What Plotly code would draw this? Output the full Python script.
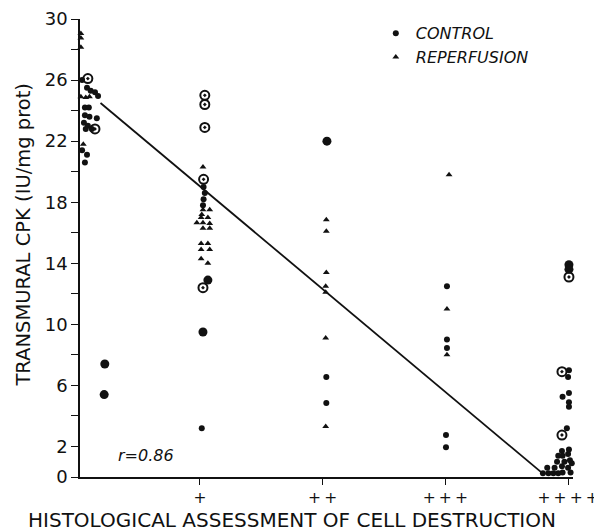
import plotly.graph_objects as go

# ---- data (x = category index + small offset, y = transmural CPK) ----
category_vals = [1, 2, 3, 4]
category_text = ["+", "+\u2009+", "+\u2009+\u2009+", "+\u2009+\u2009+\u2009+"]

y_tick_vals = [0, 2, 4, 6, 8, 10, 12, 14, 16, 18, 20, 22, 24, 26, 28, 30]
y_tick_text = ["0", "2", "", "6", "", "10", "", "14", "", "18", "", "22", "", "26", "", "30"]

reperf_x = [0.03, 0.03, 0.03, 0.02, 0.0, 0.03, 0.07, 0.10, 0.02, 0.05,
            1.025, 1.025, 1.08, 1.015, 1.01, 1.065, 0.975, 1.025, 1.08, 1.025, 1.08,
            1.01, 1.065, 1.01, 1.08, 1.01, 1.065,
            2.03, 2.03, 2.03, 2.025, 2.025, 2.025, 2.025,
            3.03, 3.013, 3.013]
reperf_y = [29.05, 28.75, 28.15, 26.7, 24.9, 24.9, 24.85, 24.9, 22.4, 21.8,
            20.3, 17.5, 17.5, 17.2, 17.0, 17.0, 16.65, 16.65, 16.6, 16.3, 16.3,
            15.3, 15.3, 14.9, 14.9, 14.3, 14.0,
            16.85, 16.1, 13.4, 12.5, 12.1, 9.1, 3.3,
            19.8, 11.0, 8.0]

control_x = [0.04, 0.08, 0.11, 0.145, 0.17, 0.063, 0.095, 0.063, 0.10, 0.16,
             0.055, 0.087, 0.12, 0.07, 0.04, 0.08, 0.02, 0.063,
             1.03, 1.04, 1.03, 1.025, 1.015,
             2.03, 2.03,
             3.013, 3.013, 3.013, 3.005, 3.005,
             4.007, 4.0, 3.955, 4.007, 4.007, 4.007, 3.99,
             3.795, 3.84, 3.88, 3.92, 3.955, 3.83, 3.89, 3.95, 4.0,
             3.91, 3.97, 4.015, 3.92, 3.955, 4.0, 3.95, 4.007, 4.03, 4.02]
control_y = [26.0, 25.5, 25.3, 25.2, 24.95, 24.2, 24.2, 23.7, 23.6, 23.5,
             23.2, 23.0, 22.8, 22.8, 21.4, 21.1, 20.8, 20.6,
             19.0, 18.6, 18.2, 17.8, 3.2,
             6.55, 4.85,
             12.5, 9.0, 8.45, 2.75, 1.95,
             7.0, 6.55, 5.25, 5.5, 4.9, 4.6, 3.2,
             0.25, 0.25, 0.25, 0.25, 0.3, 0.6, 0.6, 0.7, 0.6,
             1.0, 1.0, 1.1, 1.4, 1.4, 1.5, 1.7, 1.8, 0.9, 0.3]

control_big_x = [0.225, 0.22, 1.025, 2.035, 1.065, 4.007, 4.007]
control_big_y = [7.4, 5.4, 9.5, 22.0, 12.9, 13.9, 13.6]

ring_x = [0.087, 0.145, 1.04, 1.04, 1.04, 1.03, 1.025, 4.007, 3.95, 3.95]
ring_y = [26.1, 22.8, 25.0, 24.4, 22.9, 19.5, 12.4, 13.1, 6.9, 2.75]

fit_x = [0.19, 3.79]
fit_y = [24.5, 0.25]

FONT = "DejaVu Sans"
INK = "#111111"

fig = go.Figure()

fig.add_trace(go.Scatter(x=fit_x, y=fit_y, mode="lines",
                         line=dict(color=INK, width=1.8),
                         showlegend=False, hoverinfo="skip"))

fig.add_trace(go.Scatter(x=control_x, y=control_y, mode="markers", name="CONTROL",
                         marker=dict(symbol="circle", size=6, color=INK),
                         cliponaxis=False))
fig.add_trace(go.Scatter(x=control_big_x, y=control_big_y, mode="markers", name="CONTROL",
                         marker=dict(symbol="circle", size=9, color=INK),
                         showlegend=False, cliponaxis=False))
fig.add_trace(go.Scatter(x=ring_x, y=ring_y, mode="markers", name="CONTROL",
                         marker=dict(symbol="circle-open-dot", size=9, color=INK,
                                     line=dict(width=2, color=INK)),
                         showlegend=False, cliponaxis=False))
fig.add_trace(go.Scatter(x=reperf_x, y=reperf_y, mode="markers", name="REPERFUSION",
                         marker=dict(symbol="triangle-up", size=6, color=INK),
                         cliponaxis=False))

# page body adds an 8px offset, so the figure is sized to fit the window
fig.update_layout(
    width=594, height=524,
    margin=dict(l=72, r=29, t=11, b=55, autoexpand=False),
    paper_bgcolor="white", plot_bgcolor="white",
    font=dict(family=FONT, color=INK),
    showlegend=True,
    legend=dict(x=0.60, y=1.006, xanchor="left", yanchor="top",
                bgcolor="rgba(0,0,0,0)", itemwidth=30,
                font=dict(family=FONT, size=16, style="italic", color=INK),
                tracegroupgap=0),
    xaxis=dict(range=[0.023, 4.04], showgrid=False, zeroline=False,
               showline=True, linecolor=INK, linewidth=1.5,
               tickmode="array", tickvals=category_vals, ticktext=category_text,
               ticks="outside", ticklen=6, tickwidth=1.3, tickcolor=INK,
               tickfont=dict(family=FONT, size=15.5, color=INK),
               ticklabeloverflow="allow",
               automargin=False),
    yaxis=dict(range=[0, 30], showgrid=False, zeroline=False,
               showline=True, linecolor=INK, linewidth=1.5,
               tickmode="array", tickvals=y_tick_vals, ticktext=y_tick_text,
               ticks="outside", ticklen=7, tickwidth=1.3, tickcolor=INK,
               tickfont=dict(family=FONT, size=18, color=INK),
               automargin=False),
    annotations=[
        dict(text="TRANSMURAL CPK (IU/mg prot)", xref="paper", yref="paper",
             x=-0.115, y=0.53, xanchor="center", yanchor="middle",
             textangle=-90, showarrow=False,
             font=dict(family=FONT, size=19.5, color=INK)),
        dict(text="HISTOLOGICAL ASSESSMENT OF CELL DESTRUCTION",
             xref="paper", yref="paper", x=0.43, y=-0.0928,
             xanchor="center", yanchor="middle", showarrow=False,
             font=dict(family=FONT, size=20, color=INK)),
        dict(text="r=0.86", xref="paper", yref="paper", x=0.133, y=0.046,
             xanchor="center", yanchor="middle", showarrow=False,
             font=dict(family=FONT, size=16, style="italic", color=INK)),
    ],
)

fig.write_html("out.html")
